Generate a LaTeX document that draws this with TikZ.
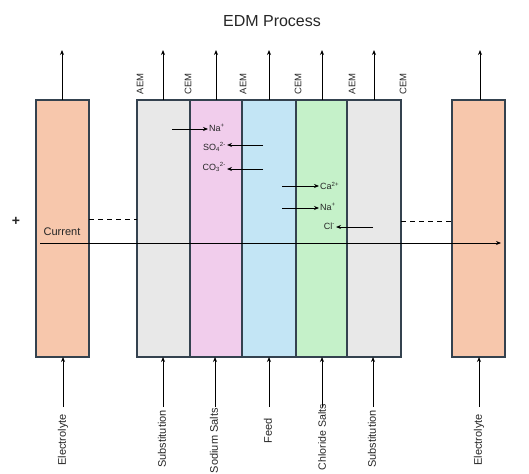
\documentclass[tikz,border=0pt]{standalone}
\usepackage{fontspec}
\setmainfont{Liberation Sans}
\usetikzlibrary{arrows.meta}
\definecolor{peach}{HTML}{F7C7AC}
\definecolor{grayc}{HTML}{E8E8E8}
\definecolor{pinkc}{HTML}{F1CDEC}
\definecolor{bluec}{HTML}{C3E5F5}
\definecolor{greenc}{HTML}{C5F1C9}
\definecolor{edge}{HTML}{34424F}
\definecolor{txt}{HTML}{262626}
\tikzset{
  cell/.style={draw=edge, line width=1.1pt, minimum height=257pt, anchor=north west, inner sep=0pt, outer sep=0pt},
  flow/.style={-{Stealth[length=5pt,width=4pt]}, line width=0.9pt, black},
  ion/.style={-{Stealth[length=5pt,width=4pt]}, line width=0.9pt, black},
  memlbl/.style={rotate=90, font=\fontsize{9.5}{10}\selectfont, text=txt, inner sep=0pt},
  botlbl/.style={rotate=90, anchor=east, font=\fontsize{11}{12}\selectfont, text=txt, inner sep=0pt},
  ionlbl/.style={font=\fontsize{9}{10}\selectfont, text=txt, inner sep=1pt},
}
\begin{document}
\begin{tikzpicture}[x=1pt,y=-1pt]
\useasboundingbox (0,0) rectangle (529,473);
\node[font=\fontsize{16}{17}\selectfont, text=txt] (title) at (272,21) {EDM Process};
% electrodes
\node[cell, fill=peach, minimum width=53pt] (le) at (36,100) {};
\node[cell, fill=peach, minimum width=53pt] (re) at (452,100) {};
% compartments
\node[cell, fill=grayc, minimum width=53pt] (c1) at (137,100) {};
\node[cell, fill=pinkc, minimum width=52pt] (c2) at (190,100) {};
\node[cell, fill=bluec, minimum width=54pt] (c3) at (242,100) {};
\node[cell, fill=greenc, minimum width=51pt] (c4) at (296,100) {};
\node[cell, fill=grayc, minimum width=54pt] (c5) at (347,100) {};
% membrane labels
\node[memlbl] (m1) at (140,84) {AEM};
\node[memlbl] (m2) at (188,84) {CEM};
\node[memlbl] (m3) at (243,84) {AEM};
\node[memlbl] (m4) at (298,84) {CEM};
\node[memlbl] (m5) at (352,84) {AEM};
\node[memlbl] (m6) at (403,84) {CEM};
% top outlet arrows
\foreach \n/\x in {le/62, c1/163, c2/216, c3/269, c4/322, c5/374, re/480}{
  \coordinate (top\n) at (\x,50);
  \draw[flow] (\n.north -| top\n) -- (top\n);
}
% bottom inlet arrows and labels
\foreach \n/\x in {le/63, c1/163, c2/215, c3/269, c4/322, c5/373, re/479}{
  \coordinate (bot\n) at (\x,407);
  \draw[flow] (bot\n) -- (\n.south -| bot\n);
}
\node[botlbl] (l1) at (63,414) {Electrolyte};
\node[botlbl] (l2) at (162,410) {Substitution};
\node[botlbl] (l3) at (214,408) {Sodium Salts};
\node[botlbl] (l4) at (268,418) {Feed};
\node[botlbl, font=\fontsize{10.6}{12}\selectfont] (l5) at (322,404) {Chloride Salts};
\node[botlbl] (l6) at (372,410) {Substitution};
\node[botlbl] (l7) at (479,414) {Electrolyte};
% plus and current
\node[font=\fontsize{14}{14}\selectfont\bfseries, text=txt] (plus) at (16,221) {+};
\node[font=\fontsize{11}{12}\selectfont, text=txt] (cur) at (62,232) {Current};
\coordinate (cs) at (40,243);
\coordinate (ce) at (501,243);
\draw[flow] (cs) -- (ce);
% dashed lines
\coordinate (dl) at (89,219);
\coordinate (dr) at (401,221);
\draw[dashed, line width=1pt, dash pattern=on 5pt off 4pt] (dl) -- (c1.west |- dl);
\draw[dashed, line width=1pt, dash pattern=on 5pt off 4pt] (dr) -- (re.west |- dr);
% ions
\node[ionlbl, anchor=west] (na1) at (208,128) {Na\textsuperscript{+}};
\coordinate (na1s) at (172,129);
\draw[ion] (na1s) -- (na1.west |- na1s);
\node[ionlbl, anchor=east] (so4) at (227,147) {SO\textsubscript{4}\textsuperscript{2-}};
\coordinate (so4s) at (263,145);
\draw[ion] (so4s) -- (so4.east |- so4s);
\node[ionlbl, anchor=east] (co3) at (227,167) {CO\textsubscript{3}\textsuperscript{2-}};
\coordinate (co3s) at (263,169);
\draw[ion] (co3s) -- (co3.east |- co3s);
\node[ionlbl, anchor=west] (ca) at (319,186) {Ca\textsuperscript{2+}};
\coordinate (cas) at (282,186);
\draw[ion] (cas) -- (ca.west |- cas);
\node[ionlbl, anchor=west] (na2) at (319,207) {Na\textsuperscript{+}};
\coordinate (na2s) at (282,208);
\draw[ion] (na2s) -- (na2.west |- na2s);
\node[ionlbl, anchor=east] (cl) at (336,226) {Cl\textsuperscript{-}};
\coordinate (cls) at (373,227);
\draw[ion] (cls) -- (cl.east |- cls);
\end{tikzpicture}
\end{document}
